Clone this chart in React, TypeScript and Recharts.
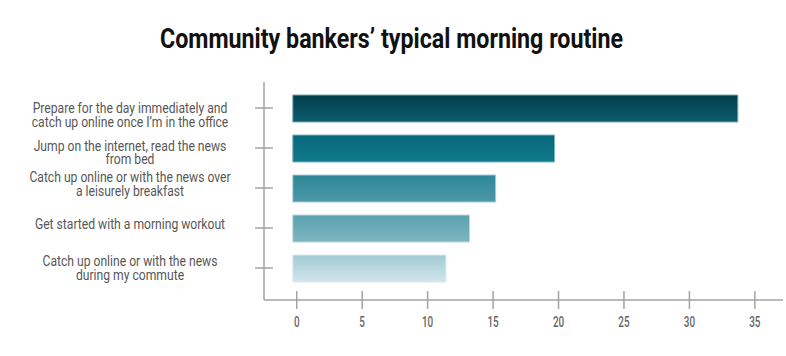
import React from 'react';
import { BarChart, Bar, XAxis, YAxis, Cell } from 'recharts';

const categories = [
  'Prepare for the day immediately and\ncatch up online once I’m in the office',
  'Jump on the internet, read the news\nfrom bed',
  'Catch up online or with the news over\na leisurely breakfast',
  'Get started with a morning workout',
  'Catch up online or with the news\nduring my commute',
];
const values = [33.7, 19.7, 15.2, 13.2, 11.4];
const xTicks = [0, 5, 10, 15, 20, 25, 30, 35];

const TOP_COLORS = ['#033d4a', '#06687a', '#2e8697', '#5aa1ae', '#a3cad3'];
const BOTTOM_COLORS = ['#0a5d6f', '#12798c', '#4b98a7', '#7db5c0', '#d2e6eb'];
const EDGE_COLORS = ['#7fa9b3', '#7fb3bf', '#a9cdd6', '#bcd9df', '#dbeaee'];
// small per-label nudges so the wrapped labels sit like the original
const LABEL_SHIFT = [6.6, 4.2, -4.2, -3.9, -0.4];
const BAR_BASE = -0.3;
const AXIS = '#a3a3a3';

const data = categories.map((name, i) => ({ name, value: values[i], idx: i }));

const XTick = ({ x, y, payload }: any) => (
  <g>
    <line x1={x} x2={x} y1={y - 9} y2={y + 9} stroke={AXIS} strokeWidth={1.5} />
    <text
      transform={`translate(${x},${y + 26.5}) scale(0.66,1)`}
      textAnchor="middle"
      fill="#666"
      fontSize={15}
      fontWeight={500}
      fontFamily="Roboto, sans-serif"
    >
      {payload.value}
    </text>
  </g>
);

const YTick = ({ x, y, payload, index }: any) => {
  const lines = String(payload.value).split('\n');
  const lh = 13.5;
  const center = y + (LABEL_SHIFT[index] ?? 0);
  const first = center - ((lines.length - 1) * lh) / 2 + 5.2;
  return (
    <g>
      <line x1={x - 9} x2={x + 9} y1={y} y2={y} stroke={AXIS} strokeWidth={1.5} />
      <text
        transform={`translate(${x - 134},${first}) scale(0.81,1)`}
        textAnchor="middle"
        fill="#575757"
        fontSize={15}
        fontFamily="Roboto, sans-serif"
      >
        {lines.map((ln, i) => (
          <tspan key={i} x={0} dy={i === 0 ? 0 : lh}>
            {ln}
          </tspan>
        ))}
      </text>
    </g>
  );
};

export default function App() {
  return (
    <div style={{ position: 'absolute', left: 0, top: 0, width: 786, height: 356, background: '#fff' }}>
      <svg width={786} height={60} style={{ position: 'absolute', left: 0, top: 0 }}>
        <text
          x={160}
          y={48}
          textLength={463}
          lengthAdjust="spacingAndGlyphs"
          fontSize={28}
          fontWeight={700}
          fontFamily="Roboto, sans-serif"
          fill="#111"
        >
          Community bankers’ typical morning routine
        </text>
      </svg>
      <div style={{ position: 'absolute', left: 0, top: 0 }}>
        <BarChart
          width={786}
          height={356}
          data={data}
          layout="vertical"
          margin={{ top: 82, right: 3, bottom: 0, left: 0 }}
        >
          <defs>
            {TOP_COLORS.map((c, i) => (
              <linearGradient key={i} id={`bar-grad-${i}`} x1="0" y1="0" x2="0" y2="1">
                <stop offset="0%" stopColor={c} />
                <stop offset="100%" stopColor={BOTTOM_COLORS[i]} />
              </linearGradient>
            ))}
          </defs>
          <XAxis
            type="number"
            domain={[-2.5, 37.15]}
            ticks={xTicks}
            allowDataOverflow
            height={56}
            axisLine={{ stroke: AXIS, strokeWidth: 1.5 }}
            tickLine={false}
            tickSize={0}
            tickMargin={0}
            tick={<XTick />}
          />
          <YAxis
            type="category"
            dataKey="name"
            width={264}
            padding={{ top: 6, bottom: 12 }}
            axisLine={{ stroke: AXIS, strokeWidth: 1.5 }}
            tickLine={false}
            tickSize={0}
            tickMargin={0}
            tick={<YTick />}
            interval={0}
          />
          <Bar dataKey={(d: any) => [BAR_BASE, d.value]} barSize={27} isAnimationActive={false}>
            {data.map((_, i) => (
              <Cell key={`cell-${i}`} fill={`url(#bar-grad-${i})`} stroke={EDGE_COLORS[i]} strokeWidth={1} />
            ))}
          </Bar>
        </BarChart>
      </div>
    </div>
  );
}
